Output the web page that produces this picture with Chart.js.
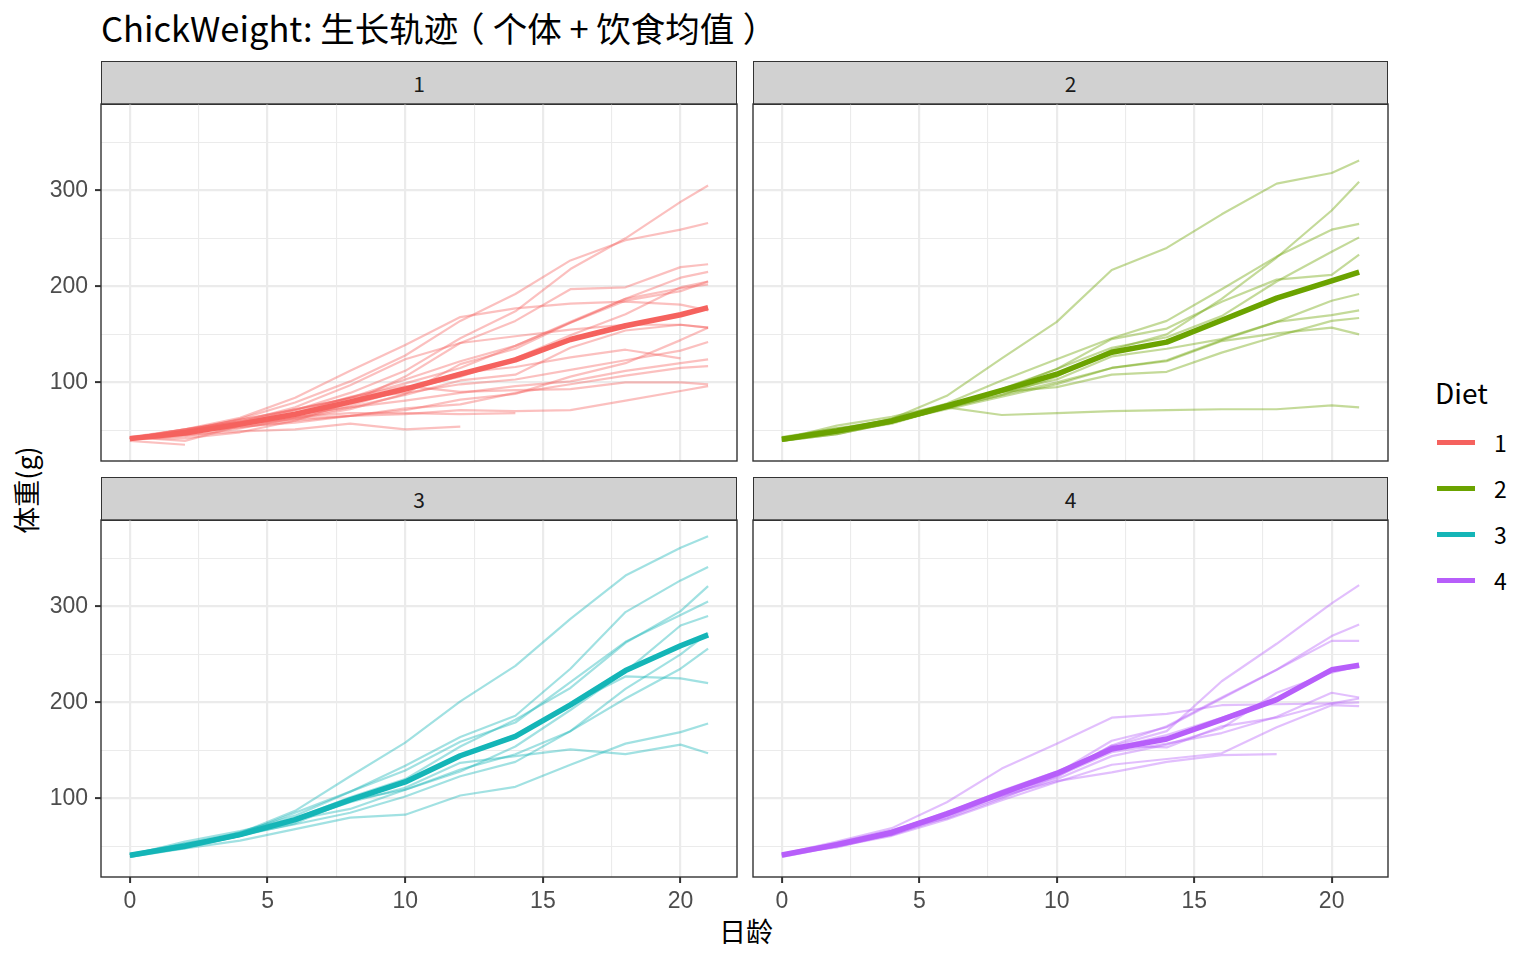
<!DOCTYPE html>
<html>
<head>
<meta charset="utf-8">
<script src="https://cdn.jsdelivr.net/npm/chart.js@4.4.0/dist/chart.umd.min.js"></script>
<style>
body { margin: 0; background: #fff; width: 1536px; height: 960px; position: relative; overflow: hidden; font-family: 'Noto Sans CJK SC', sans-serif; }
.box { position: absolute; }
.strip { position: absolute; background: #d1d1d1; border: 1.4px solid #333; box-sizing: border-box; display: flex; align-items: center; justify-content: center; font-size: 21px; color: #1a1a1a; }
#title { position: absolute; left: 101px; top: 27px; transform: translateY(-50%); font-size: 34.5px; color: #000; white-space: nowrap; }
#title .po { position: relative; left: -0.24em; }
#title .pc { position: relative; left: 0.24em; }
#xtitle { position: absolute; left: 746px; top: 930px; transform: translate(-50%, -50%); font-size: 27px; color: #000; }
#ytitle { position: absolute; left: 25px; top: 490px; transform: translate(-50%, -50%) rotate(-90deg); font-size: 27px; color: #000; white-space: nowrap; }
.legtitle { position: absolute; left: 1435px; top: 392px; transform: translateY(-50%); font-size: 28px; color: #000; }
.legkey { position: absolute; left: 1437px; width: 38px; height: 5px; }
.leglab { position: absolute; left: 1494px; transform: translateY(-50%); font-size: 23px; color: #000; }
</style>
</head>
<body>
<div id="title">ChickWeight: 生长轨迹<span class="po">（</span>个体 + 饮食均值<span class="pc">）</span></div>
<div id="xtitle">日龄</div>
<div id="ytitle">体重(g)</div>
<div class="legtitle">Diet</div>
<div id="legend"></div>
<div id="strips"></div>
<div class="box" style="left:0px;top:103px;width:738px;height:359px"><canvas id="p1"></canvas></div>
<div class="box" style="left:752px;top:103px;width:637px;height:359px"><canvas id="p2"></canvas></div>
<div class="box" style="left:0px;top:519px;width:738px;height:403px"><canvas id="p3"></canvas></div>
<div class="box" style="left:752px;top:519px;width:637px;height:403px"><canvas id="p4"></canvas></div>
<script>
// ChickWeight 数据: 每只小鸡在各日龄的体重
var days = [0, 2, 4, 6, 8, 10, 12, 14, 16, 18, 20, 21];
var diets = ['1', '2', '3', '4'];
var dietColors = ['#F5625E', '#6BA300', '#14B5B7', '#B75EFA'];
var xMajor = [0, 5, 10, 15, 20];
var xMinor = [2.5, 7.5, 12.5, 17.5];
var yMajor = [100, 200, 300];
var yMinor = [50, 150, 250, 350];

var diet1Chicks = [
    [42, 51, 59, 64, 76, 93, 106, 125, 149, 171, 199, 205],
    [40, 49, 58, 72, 84, 103, 122, 138, 162, 187, 209, 215],
    [43, 39, 55, 67, 84, 99, 115, 138, 163, 187, 198, 202],
    [42, 49, 56, 67, 74, 87, 102, 108, 136, 154, 160, 157],
    [41, 42, 48, 60, 79, 106, 141, 164, 197, 199, 220, 223],
    [41, 49, 59, 74, 97, 124, 141, 148, 155, 160, 160, 157],
    [41, 49, 57, 71, 89, 112, 146, 174, 218, 250, 288, 305],
    [42, 50, 61, 71, 84, 93, 110, 116, 126, 134, 125],
    [42, 51, 59, 68, 85, 96, 90, 92, 93, 100, 100, 98],
    [41, 44, 52, 63, 74, 81, 89, 96, 101, 112, 120, 124],
    [43, 51, 63, 84, 112, 139, 168, 177, 182, 184, 181, 175],
    [41, 49, 56, 62, 72, 88, 119, 135, 162, 185, 195, 205],
    [41, 48, 53, 60, 65, 67, 71, 70, 71, 81, 91, 96],
    [41, 49, 62, 79, 101, 128, 164, 192, 227, 248, 259, 266],
    [41, 49, 56, 64, 68, 68, 67, 68],
    [41, 45, 49, 51, 57, 51, 54],
    [42, 51, 61, 72, 83, 89, 98, 103, 113, 123, 133, 142],
    [39, 35],
    [43, 48, 55, 62, 65, 71, 82, 88, 106, 120, 144, 157],
    [41, 47, 54, 58, 65, 73, 77, 89, 98, 107, 115, 117]
];
var diet2Chicks = [
    [40, 50, 62, 86, 125, 163, 217, 240, 275, 307, 318, 331],
    [41, 55, 64, 77, 90, 95, 108, 111, 131, 148, 164, 167],
    [43, 52, 61, 73, 90, 103, 127, 135, 145, 163, 170, 175],
    [42, 52, 58, 74, 66, 68, 70, 71, 72, 72, 76, 74],
    [40, 49, 62, 78, 102, 124, 146, 164, 197, 231, 259, 265],
    [42, 48, 57, 74, 93, 114, 136, 147, 169, 205, 236, 251],
    [39, 46, 58, 73, 87, 100, 115, 123, 144, 163, 185, 192],
    [39, 46, 58, 73, 92, 114, 145, 156, 184, 207, 212, 233],
    [39, 48, 59, 74, 87, 106, 134, 150, 187, 230, 279, 309],
    [42, 48, 59, 72, 85, 98, 115, 122, 143, 151, 157, 150]
];
var diet3Chicks = [
    [42, 53, 62, 73, 85, 102, 123, 138, 170, 204, 235, 256],
    [41, 49, 65, 82, 107, 129, 159, 179, 221, 263, 291, 305],
    [39, 50, 63, 77, 96, 111, 137, 144, 151, 146, 156, 147],
    [41, 49, 63, 85, 107, 134, 164, 186, 235, 294, 327, 341],
    [41, 53, 64, 87, 123, 158, 201, 238, 287, 332, 361, 373],
    [39, 48, 61, 76, 98, 116, 145, 166, 198, 227, 225, 220],
    [41, 48, 56, 68, 80, 83, 103, 112, 135, 157, 169, 178],
    [41, 49, 61, 74, 98, 109, 128, 154, 192, 232, 280, 290],
    [42, 50, 61, 78, 89, 109, 130, 146, 170, 214, 250, 272],
    [41, 55, 66, 79, 101, 120, 154, 182, 215, 262, 295, 321]
];
var diet4Chicks = [
    [42, 51, 66, 85, 103, 124, 155, 153, 175, 184, 199, 204],
    [42, 49, 63, 84, 103, 126, 160, 174, 204, 234, 269, 281],
    [42, 55, 69, 96, 131, 157, 184, 188, 197, 198, 199, 200],
    [42, 51, 65, 86, 103, 118, 127, 138, 145, 146],
    [41, 50, 61, 78, 98, 117, 135, 141, 147, 174, 197, 196],
    [40, 52, 62, 82, 101, 120, 144, 156, 173, 210, 231, 238],
    [41, 53, 66, 79, 100, 123, 148, 157, 168, 185, 210, 205],
    [39, 50, 62, 80, 104, 125, 154, 170, 222, 261, 303, 322],
    [40, 53, 64, 85, 108, 128, 152, 166, 184, 203, 233, 237],
    [41, 54, 67, 84, 105, 122, 155, 175, 205, 234, 264, 264]
];

// 饮食均值
var diet1Mean = [41.4, 47.25, 56.47, 66.79, 79.68, 93.05, 108.53, 123.39, 144.65, 158.94, 170.41, 177.75];
var diet2Mean = [40.7, 49.4, 59.8, 75.4, 91.7, 108.5, 131.3, 141.9, 164.7, 187.7, 205.6, 214.7];
var diet3Mean = [40.8, 50.4, 62.2, 77.9, 98.4, 117.1, 144.4, 164.5, 197.4, 233.1, 258.9, 270.3];
var diet4Mean = [41.0, 51.8, 64.5, 83.9, 105.6, 126.0, 151.4, 161.8, 182.0, 202.9, 233.89, 238.56];

function toPts(arr) {
    return arr.map(function (w, i) { return { x: days[i], y: w }; });
}

function fade(hex, a) {
    var r = parseInt(hex.substr(1, 2), 16), g = parseInt(hex.substr(3, 2), 16), b = parseInt(hex.substr(5, 2), 16);
    return 'rgba(' + r + ',' + g + ',' + b + ',' + a + ')';
}

var panelBorder = {
    id: 'panelBorder',
    afterDraw: function (chart) {
        var a = chart.chartArea, c = chart.ctx;
        c.save();
        c.strokeStyle = '#333333';
        c.lineWidth = 1.4;
        c.strokeRect(a.left, a.top, a.right - a.left, a.bottom - a.top);
        c.restore();
    }
};

// strip 和图例
var stripPos = [[101, 61], [753, 61], [101, 477], [753, 477]];
diets.forEach(function (d, k) {
    var s = document.createElement('div');
    s.className = 'strip';
    s.style.left = stripPos[k][0] + 'px';
    s.style.top = stripPos[k][1] + 'px';
    s.style.width = (k % 2 ? 635 : 636) + 'px';
    s.style.height = '44px';
    s.textContent = d;
    document.getElementById('strips').appendChild(s);

    var key = document.createElement('div');
    key.className = 'legkey';
    key.style.top = (440 + k * 46) + 'px';
    key.style.background = dietColors[k];
    document.getElementById('legend').appendChild(key);

    var lab = document.createElement('div');
    lab.className = 'leglab';
    lab.style.top = (442 + k * 46) + 'px';
    lab.textContent = d;
    document.getElementById('legend').appendChild(lab);
});

function noPad(s) {
    s.paddingTop = 0; s.paddingBottom = 0; s.paddingLeft = 0; s.paddingRight = 0;
}

function makePanel(id, k, chicks, mean, showX, showY) {
    var col = dietColors[k];
    var sets = [{ data: toPts(mean), borderColor: col, borderWidth: 5.5, order: 0 }];
    chicks.forEach(function (c) {
        sets.push({ data: toPts(c), borderColor: fade(col, 0.4), borderWidth: 2.2, order: 1 });
    });
    var tickFont = { family: 'Liberation Sans', size: 23 };
    new Chart(document.getElementById(id), {
        type: 'line',
        data: { datasets: sets },
        options: {
            responsive: true,
            maintainAspectRatio: false,
            animation: false,
            layout: { autoPadding: false, padding: { top: 1, right: 1, bottom: showX ? 0 : 1, left: showY ? 0 : 1 } },
            plugins: { legend: { display: false }, tooltip: { enabled: false } },
            elements: {
                point: { radius: 0, hoverRadius: 0 },
                line: { tension: 0, fill: false, borderCapStyle: 'butt', borderJoinStyle: 'round' }
            },
            scales: {
                x: {
                    type: 'linear', min: -1.05, max: 22.05,
                    afterBuildTicks: function (s) { s.ticks = xMajor.concat(xMinor).sort(function (a, b) { return a - b; }).map(function (v) { return { value: v }; }); },
                    afterFit: function (s) { s.height = showX ? 45 : 0; noPad(s); },
                    ticks: {
                        display: showX, autoSkip: false, maxRotation: 0, padding: 5, color: '#4D4D4D', font: tickFont,
                        callback: function (v) { return xMajor.indexOf(v) >= 0 ? String(v) : ''; }
                    },
                    grid: {
                        color: '#EBEBEB',
                        lineWidth: function (c) { return xMajor.indexOf(c.tick.value) >= 0 ? 2.2 : 1.1; },
                        drawTicks: showX, tickLength: 6, tickWidth: 2,
                        tickColor: function (c) { return xMajor.indexOf(c.tick.value) >= 0 ? '#333333' : 'rgba(0,0,0,0)'; }
                    },
                    border: { display: false }
                },
                y: {
                    type: 'linear', min: 18.1, max: 389.9,
                    afterBuildTicks: function (s) { s.ticks = yMajor.concat(yMinor).sort(function (a, b) { return a - b; }).map(function (v) { return { value: v }; }); },
                    afterFit: function (s) { s.width = showY ? 101 : 0; noPad(s); },
                    ticks: {
                        display: showY, autoSkip: false, padding: 7, color: '#4D4D4D', font: tickFont,
                        callback: function (v) { return yMajor.indexOf(v) >= 0 ? String(v) : ''; }
                    },
                    grid: {
                        color: '#EBEBEB',
                        lineWidth: function (c) { return yMajor.indexOf(c.tick.value) >= 0 ? 2.2 : 1.1; },
                        drawTicks: showY, tickLength: 6, tickWidth: 2,
                        tickColor: function (c) { return yMajor.indexOf(c.tick.value) >= 0 ? '#333333' : 'rgba(0,0,0,0)'; }
                    },
                    border: { display: false }
                }
            }
        },
        plugins: [panelBorder]
    });
}

makePanel('p1', 0, diet1Chicks, diet1Mean, false, true);
makePanel('p2', 1, diet2Chicks, diet2Mean, false, false);
makePanel('p3', 2, diet3Chicks, diet3Mean, true, true);
makePanel('p4', 3, diet4Chicks, diet4Mean, true, false);
</script>
</body>
</html>
